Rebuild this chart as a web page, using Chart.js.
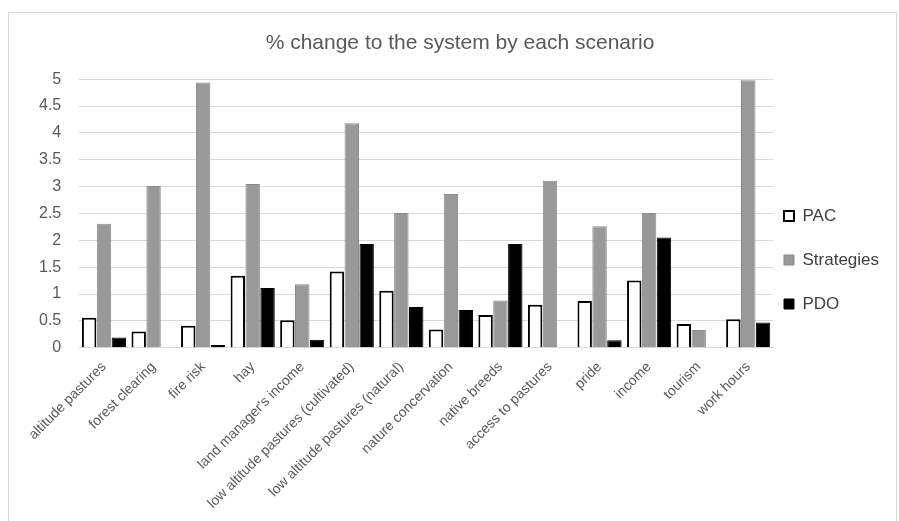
<!DOCTYPE html>
<html>
<head>
<meta charset="utf-8">
<script src="https://cdn.jsdelivr.net/npm/chart.js@4"></script>
<style>
  html, body { margin: 0; padding: 0; background: #fff; }
  #wrap { position: relative; width: 899px; height: 521px; }
  #frame { position: absolute; left: 8px; top: 12px; width: 889px; height: 520px; border: 1px solid #d9d9d9; box-sizing: border-box; }
  #chart { position: absolute; left: 0; top: 0; }
</style>
</head>
<body>
<div id="wrap">
  <div id="frame"></div>
  <canvas id="chart" width="899" height="521"></canvas>
</div>
<script>
// categories and series
const categories = [
    'altitude pastures', 'forest clearing', 'fire risk', 'hay', "land manager's income",
    'low altitude pastures (cultivated)', 'low altitude pastures (natural)', 'nature concervation',
    'native breeds', 'access to pastures', 'pride', 'income', 'tourism', 'work hours'
];
const pacData =        [0.56, 0.30, 0.41, 1.34, 0.51, 1.42, 1.06, 0.34, 0.61, 0.80, 0.87, 1.25, 0.44, 0.53];
const strategiesData = [2.31, 3.01, 4.94, 3.05, 1.18, 4.18, 2.51, 2.86, 0.88, 3.11, 2.26, 2.51, 0.33, 4.98];
const pdoData =        [0.19, 0.00, 0.05, 1.11, 0.15, 1.93, 0.76, 0.70, 1.93, 0.00, 0.14, 2.05, 0.00, 0.47];
const yTicks = [0, 0.5, 1, 1.5, 2, 2.5, 3, 3.5, 4, 4.5, 5];

const FONT = '"Liberation Sans", Arial, sans-serif';

// nudge the legend block (Excel puts it a bit closer to the plot)
const legendShift = {
    id: 'legendShift',
    afterLayout(chart) {
        const l = chart.legend;
        l.left -= 16; l.right -= 16;
        l.top -= 6; l.bottom -= 6;
    }
};

const ctx = document.getElementById('chart');
const chart = new Chart(ctx.getContext('2d'), {
    type: 'bar',
    data: {
        labels: categories,
        datasets: [
            {
                label: 'PAC',
                data: pacData,
                backgroundColor: '#ffffff',
                borderColor: '#000000',
                borderWidth: 2,
                categoryPercentage: 0.9,
                barPercentage: 0.97
            },
            {
                label: 'Strategies',
                data: strategiesData,
                backgroundColor: '#999999',
                borderColor: '#8a8a8a',
                borderWidth: 1,
                categoryPercentage: 0.9,
                barPercentage: 0.97
            },
            {
                label: 'PDO',
                data: pdoData,
                backgroundColor: '#000000',
                borderColor: '#000000',
                borderWidth: 1,
                categoryPercentage: 0.9,
                barPercentage: 0.97
            }
        ]
    },
    options: {
        responsive: false,
        animation: false,
        layout: { padding: { left: 21, right: 0, top: 17, bottom: 6 } },
        plugins: {
            title: {
                display: true,
                text: '% change to the system by each scenario',
                color: '#595959',
                font: { family: FONT, size: 21, weight: 'normal' },
                padding: { top: 14, bottom: 23 }
            },
            legend: {
                position: 'right',
                align: 'center',
                maxWidth: 126,
                labels: {
                    usePointStyle: true,
                    pointStyle: 'rect',
                    boxWidth: 10,
                    boxHeight: 10,
                    padding: 27,
                    color: '#404040',
                    font: { family: FONT, size: 17 }
                }
            },
            tooltip: { enabled: false }
        },
        scales: {
            x: {
                grid: { display: false },
                border: { color: '#d9d9d9' },
                ticks: {
                    color: '#595959',
                    font: { family: FONT, size: 14 },
                    minRotation: 45,
                    maxRotation: 45,
                    autoSkip: false
                }
            },
            y: {
                min: 0,
                max: 5,
                afterBuildTicks: function(axis) {
                    axis.ticks = yTicks.map(v => ({ value: v }));
                },
                grid: { color: '#d9d9d9', lineWidth: 1, drawTicks: false },
                border: { display: false },
                ticks: {
                    color: '#595959',
                    padding: 18,
                    font: { family: FONT, size: 16 },
                    callback: function(value) { return String(value); }
                }
            }
        }
    },
    plugins: [legendShift]
});
</script>
</body>
</html>
